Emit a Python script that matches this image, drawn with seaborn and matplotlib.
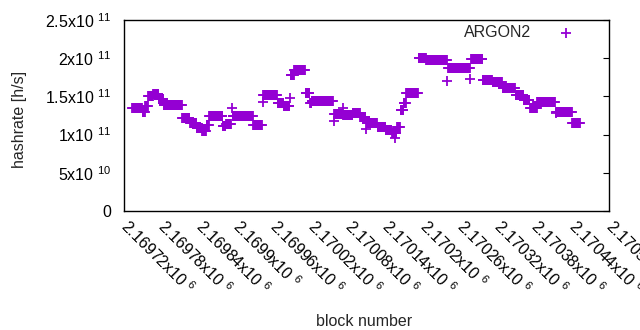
import numpy as np
import pandas as pd
import matplotlib
matplotlib.use('Agg')
import matplotlib.pyplot as plt
import seaborn as sns

# block ranges with a constant hashrate (x1e9 h/s)
seg_start = [2169733, 2169750, 2169754, 2169759, 2169767, 2169776, 2169784, 2169814,
             2169826, 2169837, 2169846, 2169853, 2169857, 2169879, 2169884, 2169894,
             2169895, 2169928, 2169943, 2169944, 2169967, 2169977, 2169987, 2169988,
             2169994, 2170012, 2170019, 2170022, 2170057, 2170058, 2170072, 2170073,
             2170088, 2170100, 2170109, 2170110, 2170128, 2170141, 2170151, 2170156,
             2170159, 2170165, 2170170, 2170174, 2170194, 2170206, 2170240, 2170241,
             2170277, 2170278, 2170297, 2170313, 2170329, 2170350, 2170363, 2170373,
             2170385, 2170414, 2170415, 2170441]
seg_end = [2169749, 2169753, 2169758, 2169766, 2169775, 2169783, 2169813, 2169825,
           2169836, 2169845, 2169852, 2169856, 2169878, 2169883, 2169892, 2169894,
           2169927, 2169942, 2169943, 2169966, 2169976, 2169986, 2169987, 2169993,
           2170011, 2170018, 2170021, 2170056, 2170057, 2170071, 2170072, 2170087,
           2170099, 2170108, 2170109, 2170127, 2170140, 2170150, 2170158, 2170156,
           2170164, 2170169, 2170173, 2170193, 2170205, 2170239, 2170240, 2170276,
           2170277, 2170296, 2170312, 2170328, 2170349, 2170362, 2170372, 2170384,
           2170413, 2170414, 2170440, 2170453]
seg_rate = [135, 129, 137, 150, 153, 146, 139, 122,
            115, 108, 105, 113, 124, 111, 114, 135,
            124, 113, 143, 152, 142, 137, 148, 178,
            184, 154, 141, 144, 118, 127, 135, 126,
            128, 123, 107, 115, 110, 106, 102, 96,
            110, 132, 141, 154, 200, 197, 170, 187,
            173, 199, 172, 169, 161, 152, 145, 135,
            143, 128, 130, 115]

xtick_values = [2169720, 2169780, 2169840, 2169900, 2169960, 2170020, 2170080,
                2170140, 2170200, 2170260, 2170320, 2170380, 2170440, 2170500]
xtick_labels = ['2.16972', '2.16978', '2.16984', '2.1699', '2.16996', '2.17002', '2.17008',
                '2.17014', '2.1702', '2.17026', '2.17032', '2.17038', '2.17044', '2.1705']
ytick_values = [0, 5e10, 1e11, 1.5e11, 2e11, 2.5e11]
ytick_labels = ['0', '5x10 $^{10}$', '1x10 $^{11}$', '1.5x10 $^{11}$', '2x10 $^{11}$', '2.5x10 $^{11}$']

blocks, rates = [], []
for s, e, v in zip(seg_start, seg_end, seg_rate):
    for b in range(s, e + 1):
        blocks.append(b)
        rates.append(v * 1e9)
df = pd.DataFrame({'block': blocks, 'hashrate': rates})

sns.set_style('white')
plt.rcParams['font.family'] = ['Liberation Sans', 'DejaVu Sans']
plt.rcParams['mathtext.fontset'] = 'custom'
plt.rcParams['mathtext.rm'] = 'Liberation Sans'
plt.rcParams['mathtext.default'] = 'regular'

fs = 11.5
fig = plt.figure(figsize=(6.4, 3.3), dpi=100)
ax = fig.add_axes([124 / 640, 119 / 330, 485 / 640, 191 / 330])

sns.scatterplot(data=df, x='block', y='hashrate', marker='+', color='#9400d3',
                s=42, linewidth=1.3, label='ARGON2', ax=ax, legend=False)

ax.set_xlim(2169720, 2170500)
ax.set_ylim(0, 2.5e11)
ax.set_xticks(xtick_values)
ax.set_xticklabels([t + 'x10 $^{6}$' for t in xtick_labels], rotation=-45,
                   ha='left', va='center', rotation_mode='anchor')
ax.set_yticks(ytick_values)
ax.set_yticklabels(ytick_labels)
ax.tick_params(axis='both', direction='in', length=4, width=0.8, labelsize=fs,
               colors='black')
ax.tick_params(axis='y', right=True, pad=9)
ax.tick_params(axis='x', top=False, pad=9)
for sp in ax.spines.values():
    sp.set_color('black')
    sp.set_linewidth(1.0)

ax.set_xlabel('block number', fontsize=fs)
ax.set_ylabel('hashrate [h/s]', fontsize=fs)
ax.xaxis.set_label_coords(0.495, -0.54)
ax.yaxis.set_label_coords(-0.199, 0.48)

ax.legend(loc='upper right', bbox_to_anchor=(582 / 640, 0.925),
          bbox_transform=fig.transFigure, frameon=False, markerfirst=False,
          fontsize=fs, handletextpad=1.2, handlelength=2, borderpad=0,
          borderaxespad=0)

fig.savefig('out.png', dpi=100)
